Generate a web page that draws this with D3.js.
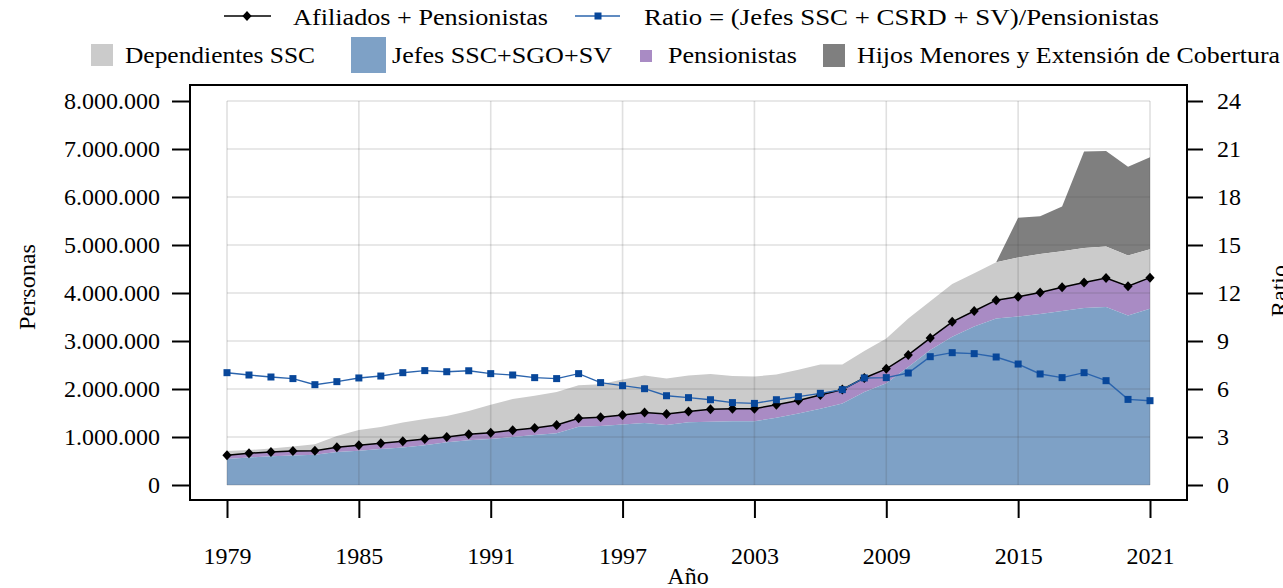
<!DOCTYPE html>
<html><head><meta charset="utf-8">
<script src="https://cdn.jsdelivr.net/npm/d3@7"></script>
<style>
html,body{margin:0;padding:0;background:#fff;}
svg{display:block;font-family:"Liberation Serif","Times New Roman",serif;}
</style></head>
<body>
<svg id="chart" width="1283" height="588"></svg>
<script>
const years = d3.range(1979, 2022);
const xTickYears = [1979, 1985, 1991, 1997, 2003, 2009, 2015, 2021];
const leftTicks = [0, 1e6, 2e6, 3e6, 4e6, 5e6, 6e6, 7e6, 8e6];
const rightTicks = [0, 3, 6, 9, 12, 15, 18, 21, 24];
// millions of persons
const jefes = [0.54,0.575,0.60,0.615,0.63,0.69,0.715,0.75,0.78,0.83,0.89,0.93,0.96,1.0,1.04,1.08,1.215,1.23,1.26,1.29,1.25,1.305,1.32,1.33,1.33,1.40,1.49,1.59,1.70,1.94,2.12,2.46,2.81,3.09,3.30,3.47,3.51,3.56,3.625,3.69,3.71,3.53,3.67];
const pensionistas = [0.08,0.085,0.09,0.095,0.085,0.095,0.115,0.12,0.13,0.13,0.11,0.125,0.13,0.14,0.15,0.17,0.175,0.18,0.20,0.22,0.23,0.225,0.26,0.26,0.26,0.27,0.27,0.285,0.29,0.29,0.30,0.25,0.25,0.31,0.325,0.38,0.41,0.45,0.495,0.53,0.60,0.61,0.65];
const dependientes = [0.09,0.07,0.07,0.09,0.135,0.235,0.315,0.34,0.39,0.415,0.44,0.485,0.58,0.65,0.67,0.69,0.69,0.69,0.74,0.77,0.74,0.75,0.73,0.68,0.67,0.63,0.64,0.635,0.52,0.56,0.63,0.76,0.77,0.79,0.785,0.79,0.82,0.80,0.75,0.72,0.66,0.64,0.59];
const hijos = [null,null,null,null,null,null,null,null,null,null,null,null,null,null,null,null,null,null,null,null,null,null,null,null,null,null,null,null,null,null,null,null,null,null,null,0,0.83,0.79,0.93,2.01,1.99,1.85,1.92];
const afiliadosPens = [0.62,0.66,0.69,0.71,0.715,0.785,0.83,0.87,0.91,0.96,1.00,1.055,1.09,1.14,1.19,1.25,1.39,1.41,1.46,1.51,1.48,1.53,1.58,1.59,1.59,1.67,1.76,1.875,1.99,2.23,2.42,2.71,3.06,3.40,3.625,3.85,3.92,4.01,4.12,4.22,4.31,4.14,4.32];
const ratio = [7.02,6.875,6.75,6.65,6.27,6.46,6.69,6.81,7.02,7.15,7.08,7.14,6.96,6.875,6.71,6.65,6.96,6.40,6.21,6.02,5.58,5.46,5.33,5.15,5.10,5.33,5.52,5.73,5.96,6.69,6.71,7.0,8.02,8.27,8.21,8.0,7.56,6.94,6.71,7.02,6.52,5.35,5.27];

const M = 1e6;
const svg = d3.select("#chart");
const x = d3.scaleLinear().domain([1979, 2021]).range([227, 1150]);
const yL = d3.scaleLinear().domain([0, 8e6]).range([485, 101]);
const yR = d3.scaleLinear().domain([0, 24]).range([485, 101]);

const colBlue = "#7ea1c6", colPurple = "#a98bc4", colLight = "#cbcbcb", colDark = "#7f7f7f";

// stacked data
const rows = years.map((yr, i) => {
  const b = jefes[i] * M;
  const p = b + pensionistas[i] * M;
  const d = p + dependientes[i] * M;
  const h = hijos[i] == null ? null : d + hijos[i] * M;
  return {yr, b, p, d, h};
});

const g = svg.append("g");
function area(lo, hi, color, defined) {
  const a = d3.area().x(r => x(r.yr)).y0(lo).y1(hi);
  if (defined) a.defined(defined);
  g.append("path").datum(rows).attr("d", a).attr("fill", color);
}
area(r => yL(r.d), r => yL(r.h), colDark, r => r.h != null);
area(r => yL(r.p), r => yL(r.d), colLight);
area(r => yL(r.b), r => yL(r.p), colPurple);
area(r => yL(0), r => yL(r.b), colBlue);

// grid on top of areas (semi-transparent)
const grid = svg.append("g").attr("stroke", "rgba(70,70,70,0.17)").attr("stroke-width", 1.6);
leftTicks.forEach(v => grid.append("line").attr("x1", 227).attr("x2", 1150).attr("y1", yL(v)).attr("y2", yL(v)));
xTickYears.forEach(v => grid.append("line").attr("x1", x(v)).attr("x2", x(v)).attr("y1", 101).attr("y2", 485));

// lines
const lineAf = d3.line().x((d, i) => x(years[i])).y(d => yL(d * M));
svg.append("path").datum(afiliadosPens).attr("d", lineAf).attr("fill", "none").attr("stroke", "#000").attr("stroke-width", 1.5);
const diamond = "M0,-5L4.6,0L0,5L-4.6,0Z";
svg.append("g").selectAll("path").data(afiliadosPens).join("path")
  .attr("d", diamond).attr("transform", (d, i) => `translate(${x(years[i])},${yL(d * M)})`).attr("fill", "#000");

const lineR = d3.line().x((d, i) => x(years[i])).y(d => yR(d));
svg.append("path").datum(ratio).attr("d", lineR).attr("fill", "none").attr("stroke", "#2b64ad").attr("stroke-width", 1.4);
svg.append("g").selectAll("rect").data(ratio).join("rect")
  .attr("x", (d, i) => x(years[i]) - 3.5).attr("y", d => yR(d) - 3.5).attr("width", 7).attr("height", 7).attr("fill", "#08479a");

// frame
svg.append("rect").attr("x", 190).attr("y", 85).attr("width", 997).attr("height", 415)
  .attr("fill", "none").attr("stroke", "#000").attr("stroke-width", 2);

// axes
const loc = d3.formatLocale({decimal: ",", thousands: ".", grouping: [3], currency: ["", ""]});
const fmt = loc.format(",d");
function styleAxis(sel) {
  sel.select(".domain").remove();
  sel.selectAll(".tick line").attr("stroke", "#000").attr("stroke-width", 2);
  sel.selectAll(".tick text").attr("fill", "#000").style("font-size", "24px").style("font-family", '"Liberation Serif", serif');
}
svg.append("g").attr("transform", "translate(190,0)")
  .call(d3.axisLeft(yL).tickValues(leftTicks).tickFormat(fmt).tickSize(18).tickPadding(12)).call(styleAxis);
svg.append("g").attr("transform", "translate(1187,0)")
  .call(d3.axisRight(yR).tickValues(rightTicks).tickFormat(d3.format("d")).tickSize(16).tickPadding(14)).call(styleAxis);
svg.append("g").attr("transform", "translate(0,500)")
  .call(d3.axisBottom(x).tickValues(xTickYears).tickFormat(d3.format("d")).tickSize(18).tickPadding(29)).call(styleAxis);

// axis titles
svg.append("text").attr("transform", "translate(35,287) rotate(-90)").attr("text-anchor", "middle")
  .style("font-size", "24px").attr("textLength", 86).attr("lengthAdjust", "spacingAndGlyphs").text("Personas");
svg.append("text").attr("transform", "translate(1287,291) rotate(-90)").attr("text-anchor", "middle")
  .style("font-size", "24px").text("Ratio");
svg.append("text").attr("x", 688).attr("y", 584).attr("text-anchor", "middle")
  .style("font-size", "24px").text("Año");

// legend
const lg = svg.append("g").style("font-size", "24px");
lg.append("line").attr("x1", 224).attr("x2", 271).attr("y1", 16).attr("y2", 16).attr("stroke", "#000").attr("stroke-width", 1.5);
lg.append("path").attr("d", diamond).attr("transform", "translate(247,16)").attr("fill", "#000");
lg.append("text").attr("x", 293).attr("y", 25).attr("textLength", 255).attr("lengthAdjust", "spacingAndGlyphs").text("Afiliados + Pensionistas");
lg.append("line").attr("x1", 575).attr("x2", 620).attr("y1", 16).attr("y2", 16).attr("stroke", "#2b64ad").attr("stroke-width", 1.5);
lg.append("rect").attr("x", 594.5).attr("y", 12.5).attr("width", 7).attr("height", 7).attr("fill", "#08479a");
lg.append("text").attr("x", 644).attr("y", 25).attr("textLength", 515).attr("lengthAdjust", "spacingAndGlyphs").text("Ratio = (Jefes SSC + CSRD + SV)/Pensionistas");

lg.append("rect").attr("x", 91).attr("y", 44).attr("width", 22).attr("height", 22).attr("fill", colLight);
lg.append("text").attr("x", 125).attr("y", 63).attr("textLength", 190).attr("lengthAdjust", "spacingAndGlyphs").text("Dependientes SSC");
lg.append("rect").attr("x", 351).attr("y", 37).attr("width", 35).attr("height", 36).attr("fill", colBlue);
lg.append("text").attr("x", 392).attr("y", 63).attr("textLength", 220).attr("lengthAdjust", "spacingAndGlyphs").text("Jefes SSC+SGO+SV");
lg.append("rect").attr("x", 640).attr("y", 50).attr("width", 12).attr("height", 12).attr("fill", colPurple);
lg.append("text").attr("x", 668).attr("y", 63).attr("textLength", 129).attr("lengthAdjust", "spacingAndGlyphs").text("Pensionistas");
lg.append("rect").attr("x", 823).attr("y", 44).attr("width", 22).attr("height", 23).attr("fill", colDark);
lg.append("text").attr("x", 857).attr("y", 63).attr("textLength", 423).attr("lengthAdjust", "spacingAndGlyphs").text("Hijos Menores y Extensión de Cobertura");
</script>
</body></html>
